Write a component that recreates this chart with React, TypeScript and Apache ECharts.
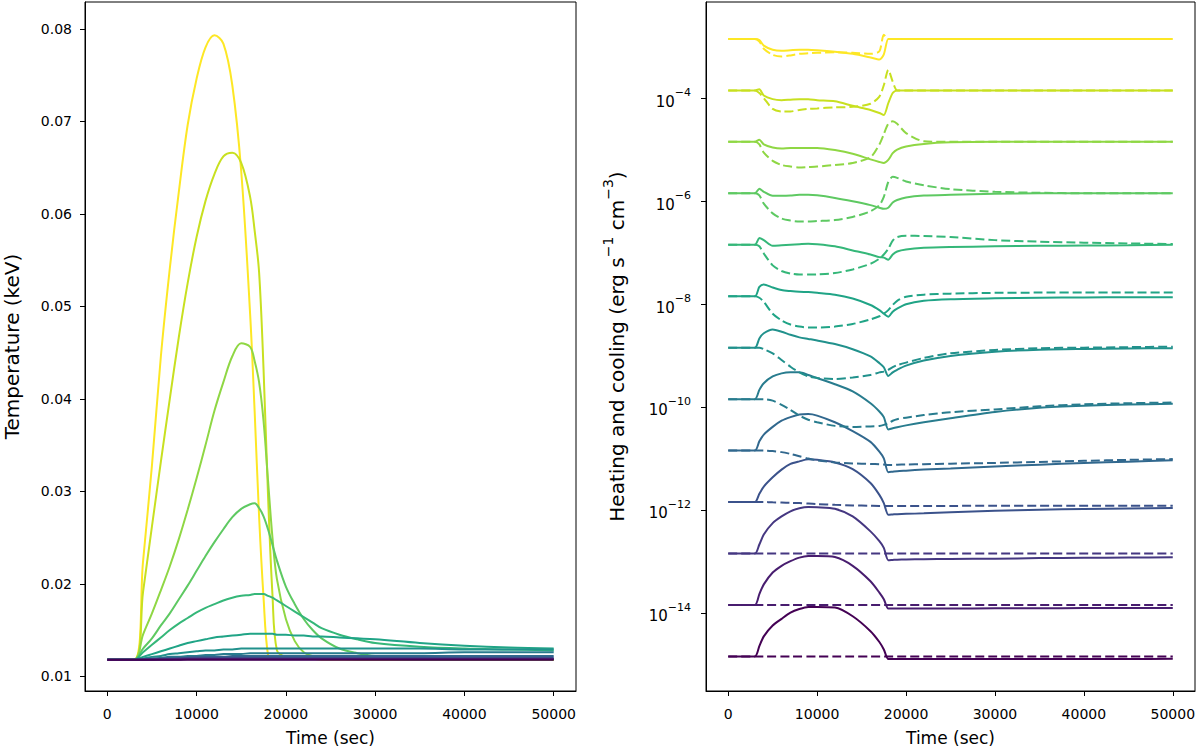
import { useEffect, useRef } from 'react';
import * as echarts from 'echarts';

const FONT = 'DejaVu Sans';

// viridis, 13 steps (index 0 = dark purple ... 12 = yellow)
const colors = [
  '#440154', '#481d6f', '#453781', '#3b528b', '#31688e', '#287c8e', '#21918c',
  '#20a486', '#35b779', '#5ec962', '#8fd744', '#c8e020', '#fde725',
];

const xTicks = [0, 10000, 20000, 30000, 40000, 50000];
const tempTicks = [0.01, 0.02, 0.03, 0.04, 0.05, 0.06, 0.07, 0.08];
const rateTicks = [-14, -12, -10, -8, -6, -4]; // powers of ten

// ---- left panel: temperature (keV) ----
const tempTime = [
  0, 3000, 4000, 5000, 6000, 7000, 8000, 9000, 10000, 11000, 12000, 13000, 14000, 15000, 16000, 16500,
  17000, 17500, 18000, 18500, 19000, 20000, 21000, 22000, 23000, 24000, 26000, 28000, 30000, 35000, 40000,
  45000, 50000,
];
const temp0 = [
  0.0118, 0.0118, 0.0118, 0.0118, 0.0118, 0.0118, 0.0118, 0.0118, 0.0118, 0.0118, 0.0118, 0.0118, 0.0118,
  0.0118, 0.0118, 0.0118, 0.0118, 0.0118, 0.0118, 0.0118, 0.0118, 0.0118, 0.0118, 0.0118, 0.0118, 0.0118,
  0.0118, 0.0118, 0.0118, 0.0118, 0.0118, 0.0118, 0.0118,
];
const temp1 = [
  0.0118, 0.0118, 0.0118, 0.0118, 0.0118, 0.0118, 0.0118, 0.01185, 0.01185, 0.01185, 0.01185, 0.01185,
  0.01185, 0.01185, 0.01185, 0.01185, 0.01185, 0.01185, 0.01185, 0.01185, 0.01185, 0.01185, 0.01185,
  0.01185, 0.01185, 0.01185, 0.01185, 0.01185, 0.01185, 0.01185, 0.01185, 0.01185, 0.01185,
];
const temp2 = [
  0.0118, 0.0118, 0.0118, 0.0118, 0.01185, 0.01185, 0.0119, 0.0119, 0.0119, 0.0119, 0.0119, 0.0119, 0.0119,
  0.0119, 0.0119, 0.0119, 0.0119, 0.0119, 0.0119, 0.0119, 0.0119, 0.0119, 0.0119, 0.0119, 0.0119, 0.0119,
  0.0119, 0.0119, 0.0119, 0.0119, 0.0119, 0.0119, 0.0119,
];
const temp3 = [
  0.0118, 0.0118, 0.0118, 0.0119, 0.0119, 0.0119, 0.0119, 0.012, 0.012, 0.012, 0.012, 0.012, 0.012, 0.012,
  0.012, 0.012, 0.012, 0.012, 0.012, 0.012, 0.012, 0.012, 0.012, 0.012, 0.012, 0.012, 0.012, 0.012, 0.012,
  0.012, 0.012, 0.012, 0.012,
];
const temp4 = [
  0.0118, 0.0118, 0.0118, 0.0119, 0.0119, 0.012, 0.012, 0.012, 0.0121, 0.0121, 0.0121, 0.0121, 0.0122,
  0.0122, 0.0122, 0.0122, 0.0122, 0.0122, 0.0122, 0.0122, 0.0122, 0.0122, 0.0122, 0.0122, 0.0122, 0.0122,
  0.0122, 0.0122, 0.0122, 0.0122, 0.0122, 0.0122, 0.0122,
];
const temp5 = [
  0.0118, 0.0118, 0.0119, 0.0119, 0.012, 0.0121, 0.0121, 0.0122, 0.0122, 0.0123, 0.0123, 0.0124, 0.0124,
  0.0124, 0.0125, 0.0125, 0.0125, 0.0125, 0.0125, 0.0125, 0.0125, 0.0125, 0.0125, 0.0125, 0.0125, 0.0125,
  0.0125, 0.0125, 0.0125, 0.0125, 0.0126, 0.0126, 0.0126,
];
const temp6 = [
  0.0118, 0.0118, 0.0119, 0.0121, 0.0122, 0.0124, 0.0125, 0.0126, 0.0127, 0.0128, 0.0128, 0.0129, 0.0129,
  0.013, 0.013, 0.013, 0.013, 0.013, 0.013, 0.013, 0.013, 0.013, 0.013, 0.013, 0.013, 0.013, 0.013, 0.013,
  0.013, 0.013, 0.0129, 0.0129, 0.0129,
];
const temp7 = [
  0.0118, 0.0118, 0.0121, 0.0124, 0.0127, 0.013, 0.0133, 0.0136, 0.0138, 0.014, 0.0142, 0.0143, 0.0144,
  0.0145, 0.0146, 0.0146, 0.0146, 0.0146, 0.0146, 0.0146, 0.0145, 0.0145, 0.0144, 0.0144, 0.0143, 0.0143,
  0.0142, 0.0141, 0.014, 0.0136, 0.0133, 0.0131, 0.013,
];
const temp8 = [
  0.0118, 0.0118, 0.0126, 0.0134, 0.0142, 0.015, 0.0157, 0.0163, 0.0169, 0.0174, 0.0178, 0.0182, 0.0185,
  0.0187, 0.0188, 0.0189, 0.0189, 0.0189, 0.0187, 0.0185, 0.0182, 0.0176, 0.017, 0.0164, 0.0158, 0.0152,
  0.0145, 0.014, 0.0136, 0.0132, 0.013, 0.0129, 0.0128,
];
const temp9 = [
  0.0118, 0.0118, 0.013, 0.0141, 0.0155, 0.0168, 0.0183, 0.0198, 0.0214, 0.023, 0.0245, 0.0259, 0.0272,
  0.0281, 0.0286, 0.0287, 0.0282, 0.0273, 0.0259, 0.0242, 0.0225, 0.0197, 0.0178, 0.0162, 0.015, 0.0141,
  0.013, 0.0125, 0.0122, 0.012, 0.0119, 0.0119, 0.0119,
];
const temp10 = [
  0.0118, 0.0118, 0.0145, 0.0168, 0.0193, 0.0219, 0.0248, 0.028, 0.0314, 0.035, 0.0387, 0.0418, 0.0446,
  0.046, 0.0456, 0.0441, 0.0418, 0.0376, 0.0312, 0.025, 0.0205, 0.0162, 0.0138, 0.0126, 0.0122, 0.0121,
  0.012, 0.0119, 0.0119, 0.0118, 0.0118, 0.0118, 0.0118,
];
const temp11 = [
  0.0118, 0.0118, 0.0191, 0.0262, 0.0332, 0.04, 0.0466, 0.0525, 0.0575, 0.0614, 0.0643, 0.0662, 0.0666,
  0.0655, 0.0618, 0.0582, 0.0537, 0.0432, 0.0296, 0.0188, 0.0128, 0.0121, 0.012, 0.0119, 0.0119, 0.0119,
  0.0119, 0.0118, 0.0118, 0.0118, 0.0118, 0.0118, 0.0118,
];
const temp12 = [
  0.0118, 0.0118, 0.0224, 0.0328, 0.0446, 0.0541, 0.0623, 0.0696, 0.0746, 0.078, 0.0793, 0.0784, 0.0739,
  0.0646, 0.0491, 0.0387, 0.0273, 0.0185, 0.0123, 0.0121, 0.012, 0.0119, 0.0119, 0.0119, 0.0119, 0.0118,
  0.0118, 0.0118, 0.0118, 0.0118, 0.0118, 0.0118, 0.0118,
];
const temps = [temp0, temp1, temp2, temp3, temp4, temp5, temp6, temp7, temp8, temp9, temp10, temp11, temp12];

// ---- right panel: heating and cooling rates ----
const rateTime = [
  0, 3000, 3500, 4000, 5000, 6000, 7000, 8000, 9000, 10000, 12000, 14000, 16000, 17000, 17500, 18000,
  18500, 19000, 20000, 22000, 25000, 30000, 35000, 40000, 45000, 50000,
];
// starting rate of each pair of curves (erg s^-1 cm^-3)
const rateStart = [
  1.42e-15, 1.42e-14, 1.42e-13, 1.42e-12, 1.42e-11, 1.42e-10, 1.42e-9, 1.42e-8, 1.42e-7, 1.42e-6, 1.42e-5,
  1.42e-4, 1.42e-3,
];
// change from the starting rate, in decades (solid lines)
const solid0 = [0, 0, 0.2, 0.39, 0.6, 0.73, 0.85, 0.92, 0.96, 0.96, 0.95, 0.78, 0.49, 0.28, 0.135, -0.05, -0.05, -0.05, -0.05, -0.05, -0.05, -0.05, -0.05, -0.05, -0.05, -0.045];
const solid1 = [0, 0, 0.21, 0.4, 0.63, 0.76, 0.85, 0.92, 0.95, 0.95, 0.93, 0.76, 0.46, 0.24, 0.11, -0.07, -0.07, -0.07, -0.07, -0.07, -0.07, -0.065, -0.065, -0.06, -0.06, -0.06];
const solid2 = [0, 0, 0.175, 0.37, 0.59, 0.72, 0.82, 0.88, 0.905, 0.9, 0.87, 0.72, 0.43, 0.24, 0.11, -0.13, -0.125, -0.12, -0.115, -0.11, -0.105, -0.1, -0.09, -0.085, -0.08, -0.075];
const solid3 = [0, 0, 0.16, 0.3, 0.48, 0.63, 0.74, 0.79, 0.83, 0.82, 0.77, 0.64, 0.37, 0.14, -0.02, -0.245, -0.24, -0.235, -0.23, -0.22, -0.2, -0.17, -0.15, -0.135, -0.125, -0.115];
const solid4 = [0, 0, 0.18, 0.31, 0.46, 0.58, 0.65, 0.7, 0.71, 0.68, 0.55, 0.38, 0.17, -0.02, -0.15, -0.42, -0.41, -0.4, -0.39, -0.37, -0.35, -0.31, -0.275, -0.24, -0.215, -0.19];
const solid5 = [0, 0, 0.18, 0.31, 0.44, 0.5, 0.52, 0.52, 0.47, 0.41, 0.29, 0.15, -0.08, -0.24, -0.35, -0.59, -0.565, -0.545, -0.51, -0.45, -0.37, -0.25, -0.17, -0.13, -0.105, -0.09];
const solid6 = [0, 0, 0.18, 0.28, 0.355, 0.31, 0.25, 0.2, 0.17, 0.14, 0.07, -0.03, -0.17, -0.3, -0.38, -0.55, -0.48, -0.43, -0.35, -0.25, -0.16, -0.08, -0.04, -0.025, -0.015, -0.01];
const solid7 = [0, 0, 0.18, 0.23, 0.17, 0.12, 0.1, 0.085, 0.08, 0.065, 0.03, -0.045, -0.17, -0.27, -0.34, -0.4, -0.3, -0.24, -0.155, -0.09, -0.06, -0.04, -0.03, -0.025, -0.02, -0.02];
const solid8 = [0, 0, 0.13, 0.09, -0.02, -0.01, 0, 0.01, 0.02, 0.01, -0.03, -0.11, -0.19, -0.24, -0.25, -0.29, -0.19, -0.13, -0.09, -0.06, -0.045, -0.03, -0.02, -0.015, -0.01, 0];
const solid9 = [0, 0, 0.09, 0.03, -0.05, -0.05, -0.045, -0.03, -0.03, -0.04, -0.09, -0.155, -0.23, -0.28, -0.3, -0.28, -0.18, -0.13, -0.08, -0.045, -0.03, -0.01, 0, 0, 0, 0];
const solid10 = [0, 0, 0.04, -0.05, -0.11, -0.13, -0.12, -0.12, -0.12, -0.12, -0.16, -0.23, -0.34, -0.39, -0.41, -0.35, -0.22, -0.15, -0.09, -0.04, -0.01, 0, 0, 0, 0, 0];
const solid11 = [0, 0, 0.02, -0.1, -0.17, -0.19, -0.18, -0.17, -0.17, -0.19, -0.21, -0.3, -0.38, -0.44, -0.48, -0.25, -0.05, 0, 0, 0, 0, 0, 0, 0, 0, 0];
const solid12 = [0, 0, -0.02, -0.13, -0.21, -0.23, -0.22, -0.21, -0.21, -0.22, -0.25, -0.29, -0.36, -0.4, -0.3, 0, 0, 0, 0, 0, 0, 0, 0, 0, 0, 0];
// dashed lines
const dashed0 = [0, 0, 0, 0, 0, 0, 0, 0, 0, 0, 0, 0, 0, 0, 0, 0, 0, 0, 0, 0, 0, 0, 0, 0, 0, 0];
const dashed1 = [0, 0, 0, 0, 0, 0, 0, 0, 0, 0, 0, 0, 0, 0, 0, 0, 0, 0, 0, 0, 0, 0, 0, 0, 0, 0];
const dashed2 = [0, 0, 0, 0, 0, 0, 0, 0, 0, 0, 0, 0, 0, 0, 0, 0, 0, 0, 0, 0, 0, 0, 0, 0, 0, 0];
const dashed3 = [0, 0, 0, 0, -0.005, -0.01, -0.015, -0.02, -0.03, -0.04, -0.055, -0.065, -0.072, -0.075, -0.075, -0.075, -0.075, -0.075, -0.075, -0.075, -0.075, -0.072, -0.07, -0.07, -0.07, -0.07];
const dashed4 = [0, 0, 0, 0, -0.01, -0.03, -0.065, -0.11, -0.155, -0.19, -0.23, -0.25, -0.26, -0.265, -0.27, -0.28, -0.28, -0.275, -0.27, -0.265, -0.255, -0.24, -0.22, -0.2, -0.18, -0.165];
const dashed5 = [0, 0, 0, 0, -0.03, -0.11, -0.21, -0.32, -0.4, -0.45, -0.52, -0.54, -0.53, -0.52, -0.5, -0.47, -0.42, -0.39, -0.36, -0.31, -0.255, -0.2, -0.14, -0.1, -0.08, -0.065];
const dashed6 = [0, 0, 0, -0.03, -0.11, -0.24, -0.37, -0.48, -0.56, -0.59, -0.61, -0.58, -0.53, -0.48, -0.465, -0.43, -0.38, -0.34, -0.29, -0.2, -0.11, -0.045, -0.01, 0, 0.01, 0.02];
const dashed7 = [0, 0, -0.03, -0.11, -0.34, -0.47, -0.55, -0.59, -0.61, -0.61, -0.59, -0.54, -0.45, -0.39, -0.34, -0.27, -0.17, -0.09, -0.01, 0.03, 0.05, 0.065, 0.07, 0.07, 0.07, 0.07];
const dashed8 = [0, 0, -0.03, -0.17, -0.4, -0.51, -0.56, -0.58, -0.58, -0.575, -0.55, -0.48, -0.37, -0.27, -0.19, -0.08, 0.08, 0.15, 0.175, 0.17, 0.15, 0.09, 0.06, 0.04, 0.025, 0.015];
const dashed9 = [0, 0, -0.04, -0.2, -0.39, -0.49, -0.53, -0.55, -0.55, -0.54, -0.52, -0.46, -0.35, -0.23, -0.07, 0.22, 0.32, 0.3, 0.23, 0.155, 0.08, 0.03, 0.01, 0, 0, 0];
const dashed10 = [0, 0, -0.05, -0.21, -0.37, -0.45, -0.48, -0.5, -0.49, -0.48, -0.45, -0.41, -0.3, -0.05, 0.15, 0.35, 0.4, 0.35, 0.17, 0.01, 0, 0, 0, 0, 0, 0];
const dashed11 = [0, 0, -0.05, -0.15, -0.36, -0.41, -0.41, -0.38, -0.36, -0.35, -0.33, -0.32, -0.26, -0.12, 0.1, 0.4, 0.17, 0, 0, 0, 0, 0, 0, 0, 0, 0];
const dashed12 = [0, 0, -0.05, -0.19, -0.31, -0.34, -0.32, -0.29, -0.28, -0.27, -0.26, -0.27, -0.29, -0.24, 0.08, 0, 0, 0, 0, 0, 0, 0, 0, 0, 0, 0];

const solids = [solid0, solid1, solid2, solid3, solid4, solid5, solid6, solid7, solid8, solid9, solid10, solid11, solid12];
const dasheds = [dashed0, dashed1, dashed2, dashed3, dashed4, dashed5, dashed6, dashed7, dashed8, dashed9, dashed10, dashed11, dashed12];

const black = '#000';
const axisLine = { show: true, onZero: false, lineStyle: { color: black, width: 1 } };

function xAxis(gridIndex: number) {
  return {
    type: 'value',
    gridIndex,
    min: -2500,
    max: 52500,
    name: 'Time (sec)',
    nameLocation: 'middle',
    nameGap: 38,
    nameTextStyle: { fontSize: 17, color: black, fontFamily: FONT },
    axisLine,
    axisTick: { show: true, length: 5, customValues: xTicks, lineStyle: { color: black, width: 1 } },
    axisLabel: {
      customValues: xTicks,
      margin: 16,
      fontSize: 14,
      color: black,
      fontFamily: FONT,
      formatter: (v: number) => String(v),
    },
    splitLine: { show: false },
  };
}

function buildOption(): any {
  const series: any[] = [];

  // temperature, yellow first so the dark curves end on top
  for (let i = temps.length - 1; i >= 0; i--) {
    series.push({
      type: 'line',
      xAxisIndex: 0,
      yAxisIndex: 0,
      data: tempTime.map((t, k) => [t, temps[i][k]]),
      showSymbol: false,
      silent: true,
      smooth: 0.35,
      lineStyle: { color: colors[i], width: 2 },
      itemStyle: { color: colors[i] },
    });
  }

  // rates, plotted as log10 on a linear axis
  for (let i = 0; i < solids.length; i++) {
    const base = Math.log10(rateStart[i]);
    series.push({
      type: 'line',
      xAxisIndex: 1,
      yAxisIndex: 1,
      data: rateTime.map((t, k) => [t, base + solids[i][k]]),
      showSymbol: false,
      silent: true,
      smooth: 0.25,
      lineStyle: { color: colors[i], width: 2 },
      itemStyle: { color: colors[i] },
    });
    series.push({
      type: 'line',
      xAxisIndex: 1,
      yAxisIndex: 1,
      data: rateTime.map((t, k) => [t, base + dasheds[i][k]]),
      showSymbol: false,
      silent: true,
      smooth: 0.25,
      lineStyle: { color: colors[i], width: 2, type: [9, 4] },
      itemStyle: { color: colors[i] },
    });
  }

  return {
    animation: false,
    backgroundColor: '#fff',
    textStyle: { fontFamily: FONT },
    grid: [
      { left: 85, top: 2, width: 491, height: 689, show: true, borderColor: black, borderWidth: 1, containLabel: false, outerBoundsMode: 'none' },
      { left: 706, top: 2, width: 489, height: 689, show: true, borderColor: black, borderWidth: 1, containLabel: false, outerBoundsMode: 'none' },
    ],
    xAxis: [xAxis(0), xAxis(1)],
    yAxis: [
      {
        type: 'value',
        gridIndex: 0,
        min: 0.00841,
        max: 0.0829,
        name: 'Temperature (keV)',
        nameLocation: 'middle',
        nameGap: 63,
        nameRotate: 90,
        nameTextStyle: { fontSize: 20, color: black, fontFamily: FONT },
        axisLine,
        axisTick: { show: true, length: 5, customValues: tempTicks, lineStyle: { color: black, width: 1 } },
        axisLabel: {
          customValues: tempTicks,
          margin: 13,
          fontSize: 14,
          color: black,
          fontFamily: FONT,
          formatter: (v: number) => v.toFixed(2),
        },
        splitLine: { show: false },
      },
      {
        type: 'value',
        gridIndex: 1,
        min: -15.52,
        max: -2.13,
        name: '{n|Heating and cooling (erg s}{s|−1}{n| cm}{s|−3}{n|)}',
        nameLocation: 'middle',
        nameGap: 79,
        nameRotate: 90,
        nameTextStyle: {
          fontSize: 20,
          color: black,
          fontFamily: FONT,
          rich: {
            n: { fontSize: 20, lineHeight: 26, verticalAlign: 'bottom', color: black, fontFamily: FONT },
            s: { fontSize: 14, lineHeight: 18, verticalAlign: 'top', color: black, fontFamily: FONT },
          },
        },
        axisLine,
        axisTick: { show: true, length: 5, customValues: rateTicks, lineStyle: { color: black, width: 1 } },
        axisLabel: {
          customValues: rateTicks,
          margin: 15,
          color: black,
          fontFamily: FONT,
          formatter: (v: number) => `{b|10}{s|−${Math.abs(Math.round(v))}}`,
          rich: {
            b: { fontSize: 15, lineHeight: 22, verticalAlign: 'bottom', color: black, fontFamily: FONT },
            s: { fontSize: 11, lineHeight: 15, verticalAlign: 'top', color: black, fontFamily: FONT },
          },
        },
        splitLine: { show: false },
      },
    ],
    series,
  };
}

export default function App() {
  const chartRef = useRef<HTMLDivElement>(null);

  useEffect(() => {
    if (!chartRef.current) return;
    const chart = echarts.init(chartRef.current, null, { renderer: 'svg' });
    chart.setOption(buildOption());
    return () => {
      chart.dispose();
    };
  }, []);

  return (
    <div
      ref={chartRef}
      style={{ position: 'absolute', left: 0, top: 0, width: 1200, height: 747, background: '#fff' }}
    />
  );
}
